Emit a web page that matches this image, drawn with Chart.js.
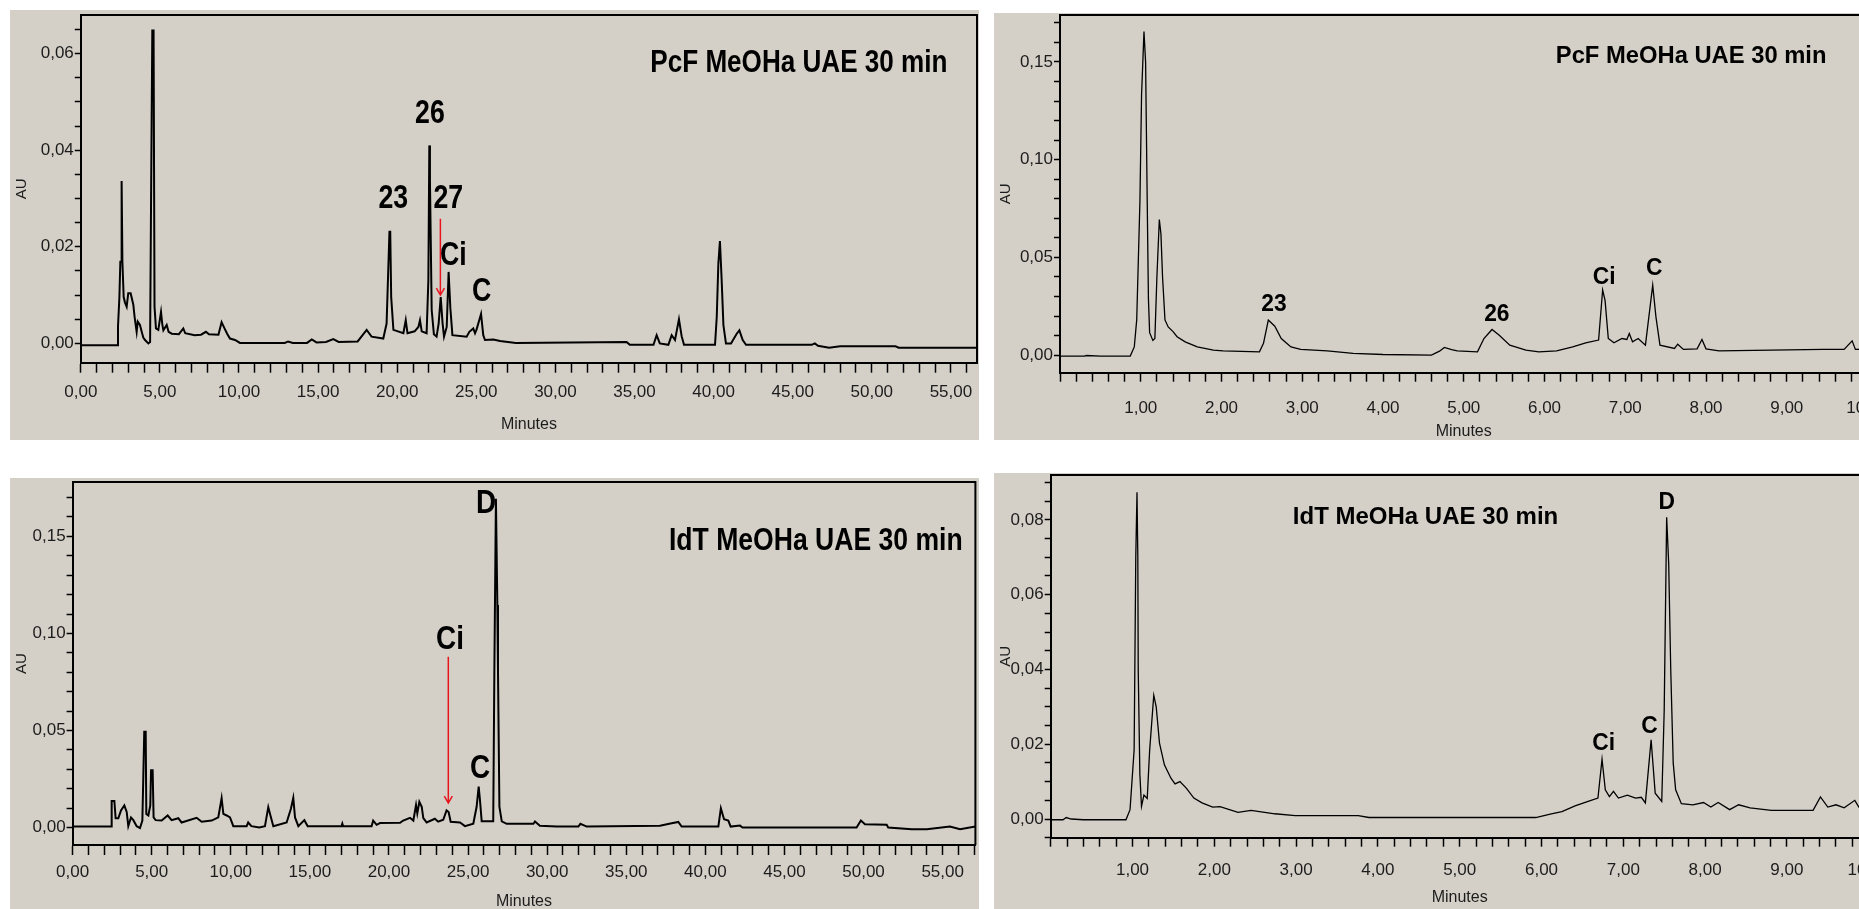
<!DOCTYPE html>
<html>
  <head>
    <meta charset="utf-8" />
    <title>HPLC chromatograms - PcF / IdT MeOHa UAE 30 min</title>
    <style>
        html, body {
            width: 100%;
            height: 100%;
            margin: 0;
            padding: 0;
            overflow: hidden;
            background: #ffffff;
        }
        .panel {
            position: absolute;
            background: #d4d0c8;
        }
        .panel canvas {
            display: block;
        }
    </style>
  </head>
  <body>

    <script src="https://cdn.jsdelivr.net/npm/chart.js@4/dist/chart.umd.min.js"></script>

    <div class="panel" style="left:10px;top:10px;width:969px;height:430px"><canvas id="tl" width="969" height="430"></canvas></div>
    <div class="panel" style="left:994px;top:13px;width:940px;height:427px"><canvas id="tr" width="940" height="427"></canvas></div>
    <div class="panel" style="left:10px;top:478px;width:969px;height:431px"><canvas id="bl" width="969" height="431"></canvas></div>
    <div class="panel" style="left:994px;top:473px;width:940px;height:436px"><canvas id="br" width="940" height="436"></canvas></div>

    <script>
        // ---- PcF MeOHa UAE 30 min, 0-57 min run (top left) ----
        const tlTime = [0, 2.31, 2.35, 2.44, 2.50, 2.55, 2.58, 2.63, 2.71, 2.79,
          2.90, 3.00, 3.15, 3.32, 3.40, 3.53, 3.60, 3.74, 3.85, 3.95,
          4.06, 4.27, 4.38, 4.44, 4.52, 4.60, 4.66, 4.75, 4.90, 5.07,
          5.15, 5.22, 5.43, 5.55, 5.75, 6.20, 6.48, 6.60, 7.20, 7.60,
          7.91, 8.10, 8.70, 8.90, 9.10, 9.25, 9.43, 9.75, 10.06, 12.90,
          13.10, 13.40, 14.30, 14.60, 14.90, 15.50, 15.96, 16.30, 17.50, 18.07,
          18.20, 18.38, 19.12, 19.33, 19.51, 19.56, 19.62, 19.76, 20.39, 20.54,
          20.65, 21.10, 21.34, 21.44, 21.55, 21.86, 21.97, 22.03, 22.07, 22.18,
          22.32, 22.49, 22.62, 22.75, 22.87, 22.96, 23.13, 23.25, 23.36, 23.49,
          24.39, 24.56, 24.81, 24.92, 25.02, 25.30, 25.44, 25.55, 26.08, 26.50,
          27.50, 34.50, 34.70, 36.20, 36.40, 36.60, 37.14, 37.35, 37.56, 37.81,
          37.98, 38.13, 40.09, 40.20, 40.30, 40.40, 40.51, 40.62, 40.78, 41.10,
          41.46, 41.63, 41.84, 42.05, 46.20, 46.40, 46.60, 47.30, 48.00, 51.50,
          51.70, 56.65];
        const tlAU = [-0.0004, -0.0004, 0.0034, 0.0096, 0.0169, 0.0169, 0.0336, 0.0169, 0.0096, 0.0085,
          0.0076, 0.0104, 0.0104, 0.0080, 0.0055, 0.0024, 0.0045, 0.0038, 0.0024, 0.0012,
          0.0007, 0.0000, 0.0003, 0.0290, 0.0648, 0.0648, 0.0076, 0.0031, 0.0028, 0.0065,
          0.0040, 0.0027, 0.0038, 0.0024, 0.0020, 0.0019, 0.0031, 0.0021, 0.0017, 0.0018,
          0.0024, 0.0019, 0.0018, 0.0044, 0.0030, 0.0020, 0.0010, 0.0007, 0.0001, 0.0001,
          0.0004, 0.0001, 0.0001, 0.0008, 0.0002, 0.0003, 0.0009, 0.0003, 0.0004, 0.0028,
          0.0022, 0.0014, 0.0010, 0.0041, 0.0231, 0.0231, 0.0096, 0.0028, 0.0021, 0.0048,
          0.0021, 0.0025, 0.0034, 0.0048, 0.0025, 0.0021, 0.0131, 0.0410, 0.0338, 0.0069,
          0.0019, 0.0014, 0.0041, 0.0096, 0.0041, 0.0014, 0.0034, 0.0148, 0.0073, 0.0017,
          0.0014, 0.0024, 0.0031, 0.0021, 0.0029, 0.0061, 0.0017, 0.0007, 0.0008, 0.0005,
          0.0001, 0.0003, -0.0003, -0.0003, 0.0017, 0.0000, -0.0003, 0.0017, 0.0007, 0.0050,
          0.0015, -0.0003, -0.0003, 0.0055, 0.0165, 0.0212, 0.0131, 0.0038, 0.0000, 0.0000,
          0.0020, 0.0027, 0.0007, -0.0003, -0.0003, 0.0000, -0.0005, -0.0009, -0.0006, -0.0006,
          -0.0009, -0.0009];
        const tlPeakText = ['23', '26', '27', 'Ci', 'C'];
        const tlPeakTime = [19.75, 22.07, 23.23, 23.55, 25.34];
        const tlPeakAU = [0.0300, 0.0476, 0.0300, 0.0182, 0.0107];
        const tlArrow = [22.73, 0.0258, 0.0100]; // time, from AU, to AU

        // ---- PcF MeOHa UAE 30 min, 0-10 min run (top right) ----
        const trTime = [0.00, 0.30, 0.33, 0.50, 0.87, 0.92, 0.95, 0.99, 1.01, 1.04,
          1.06, 1.08, 1.095, 1.11, 1.15, 1.175, 1.20, 1.23, 1.25, 1.27,
          1.30, 1.34, 1.40, 1.45, 1.55, 1.70, 1.90, 2.02, 2.47, 2.52,
          2.58, 2.66, 2.74, 2.86, 2.98, 3.31, 3.63, 4.00, 4.60, 4.70,
          4.76, 4.85, 4.92, 5.17, 5.25, 5.35, 5.44, 5.57, 5.77, 5.93,
          6.15, 6.35, 6.51, 6.67, 6.72, 6.75, 6.79, 6.86, 6.96, 7.02,
          7.05, 7.09, 7.16, 7.25, 7.34, 7.38, 7.43, 7.61, 7.65, 7.72,
          7.89, 7.95, 8.00, 8.16, 9.45, 9.71, 9.81, 9.85, 10.00];
        const trAU = [-0.0005, -0.0005, -0.0002, -0.0005, -0.0005, 0.0042, 0.0180, 0.0790, 0.1330, 0.1655,
          0.1500, 0.0790, 0.0290, 0.0115, 0.0075, 0.0085, 0.0400, 0.0694, 0.0620, 0.0400,
          0.0180, 0.0144, 0.0120, 0.0094, 0.0068, 0.0042, 0.0025, 0.0022, 0.0017, 0.0060,
          0.0179, 0.0148, 0.0085, 0.0042, 0.0029, 0.0022, 0.0009, 0.0003, 0.0000, 0.0020,
          0.0039, 0.0028, 0.0022, 0.0017, 0.0085, 0.0131, 0.0102, 0.0051, 0.0026, 0.0017,
          0.0022, 0.0042, 0.0063, 0.0077, 0.0333, 0.0280, 0.0085, 0.0063, 0.0085, 0.0080,
          0.0111, 0.0068, 0.0085, 0.0051, 0.0358, 0.0196, 0.0051, 0.0034, 0.0056, 0.0029,
          0.0032, 0.0080, 0.0032, 0.0022, 0.0029, 0.0029, 0.0073, 0.0029, 0.0030];
        const trPeakText = ['23', '26', 'Ci', 'C'];
        const trPeakTime = [2.65, 5.41, 6.74, 7.36];
        const trPeakAU = [0.0261, 0.0210, 0.0400, 0.0444];

        // ---- IdT MeOHa UAE 30 min, 0-57 min run (bottom left) ----
        const blTime = [0, 2.43, 2.47, 2.64, 2.72, 2.89, 3.06, 3.27, 3.42, 3.52,
          3.69, 3.84, 4.05, 4.26, 4.41, 4.47, 4.53, 4.62, 4.66, 4.79,
          4.91, 4.96, 5.06, 5.12, 5.25, 5.63, 6.01, 6.26, 6.68, 6.89,
          7.84, 8.16, 8.79, 9.21, 9.42, 9.53, 9.74, 9.95, 10.16, 11.00,
          11.10, 11.30, 11.80, 12.16, 12.37, 12.54, 12.69, 13.53, 13.80, 13.95,
          14.06, 14.27, 14.65, 14.86, 17.00, 17.05, 17.10, 18.90, 19.00, 19.22,
          19.43, 20.70, 20.90, 21.33, 21.54, 21.71, 21.79, 21.92, 22.07, 22.17,
          22.38, 22.90, 23.11, 23.43, 23.64, 23.77, 23.90, 24.49, 24.80, 25.33,
          25.54, 25.67, 25.75, 25.86, 26.59, 26.66, 26.76, 26.85, 26.89, 26.98,
          27.13, 27.44, 29.13, 29.23, 29.54, 30.60, 31.97, 32.10, 32.50, 37.13,
          37.87, 38.29, 38.50, 40.82, 40.98, 41.18, 41.45, 41.60, 42.19, 42.35,
          49.56, 49.83, 50.09, 51.46, 51.56, 53.04, 54.00, 55.46, 56.10, 57.07];
        const blAU = [0.0005, 0.0005, 0.0137, 0.0137, 0.0048, 0.0048, 0.0088, 0.0114, 0.0080, 0.0007,
          0.0052, 0.0038, 0.0007, -0.0003, 0.0036, 0.0263, 0.0494, 0.0494, 0.0070, 0.0062,
          0.0114, 0.0295, 0.0295, 0.0052, 0.0038, 0.0036, 0.0062, 0.0038, 0.0048, 0.0026,
          0.0050, 0.0030, 0.0036, 0.0052, 0.0151, 0.0070, 0.0062, 0.0052, 0.0007, 0.0007,
          0.0026, 0.0007, 0.0000, 0.0007, 0.0105, 0.0052, 0.0007, 0.0026, 0.0097, 0.0153,
          0.0052, 0.0007, 0.0038, 0.0007, 0.0007, 0.0020, 0.0007, 0.0007, 0.0036, 0.0014,
          0.0023, 0.0024, 0.0036, 0.0050, 0.0036, 0.0116, 0.0073, 0.0133, 0.0107, 0.0048,
          0.0026, 0.0045, 0.0030, 0.0040, 0.0088, 0.0080, 0.0030, 0.0026, 0.0007, 0.0020,
          0.0107, 0.0211, 0.0143, 0.0032, 0.0032, 0.0794, 0.1694, 0.1146, 0.0812, 0.0107,
          0.0032, 0.0019, 0.0019, 0.0031, 0.0009, 0.0005, 0.0005, 0.0019, 0.0005, 0.0009,
          0.0022, 0.0029, 0.0005, 0.0005, 0.0099, 0.0043, 0.0036, 0.0005, 0.0010, 0.0000,
          0.0000, 0.0036, 0.0017, 0.0014, 0.0000, -0.0009, -0.0009, 0.0005, -0.0009, 0.0005];
        const blPeakText = ['Ci', 'C', 'D'];
        const blPeakTime = [23.86, 25.75, 26.13];
        const blPeakAU = [0.0966, 0.0302, 0.1669];
        const blArrow = [23.75, 0.0880, 0.0126];

        // ---- IdT MeOHa UAE 30 min, 0-10 min run (bottom right) ----
        const brTime = [0.00, 0.15, 0.19, 0.25, 0.40, 0.92, 0.97, 1.02, 1.04, 1.055,
          1.065, 1.07, 1.09, 1.11, 1.14, 1.18, 1.21, 1.26, 1.29, 1.33,
          1.39, 1.47, 1.52, 1.58, 1.66, 1.75, 1.85, 1.98, 2.07, 2.29,
          2.45, 2.74, 2.99, 3.76, 3.89, 5.93, 6.12, 6.25, 6.41, 6.57,
          6.69, 6.74, 6.78, 6.83, 6.88, 6.94, 7.05, 7.15, 7.22, 7.27,
          7.34, 7.39, 7.47, 7.50, 7.53, 7.555, 7.58, 7.61, 7.64, 7.71,
          7.85, 7.98, 8.07, 8.16, 8.30, 8.41, 8.55, 8.81, 9.32, 9.41,
          9.50, 9.60, 9.70, 9.83, 9.88, 10.00];
        const brAU = [-0.0002, -0.0002, 0.0004, 0.0000, -0.0002, -0.0002, 0.0025, 0.0185, 0.0700, 0.0874,
          0.0700, 0.0400, 0.0120, 0.0034, 0.0064, 0.0055, 0.0185, 0.0331, 0.0300, 0.0203,
          0.0145, 0.0109, 0.0094, 0.0100, 0.0082, 0.0056, 0.0043, 0.0032, 0.0033, 0.0018,
          0.0023, 0.0014, 0.0009, 0.0009, 0.0004, 0.0004, 0.0014, 0.0020, 0.0035, 0.0047,
          0.0056, 0.0160, 0.0078, 0.0060, 0.0074, 0.0056, 0.0064, 0.0056, 0.0058, 0.0043,
          0.0212, 0.0069, 0.0047, 0.0290, 0.0807, 0.0683, 0.0400, 0.0150, 0.0078, 0.0041,
          0.0038, 0.0044, 0.0032, 0.0044, 0.0025, 0.0038, 0.0030, 0.0023, 0.0023, 0.0059,
          0.0032, 0.0038, 0.0030, 0.0050, 0.0032, 0.0030];
        const brPeakText = ['Ci', 'C', 'D'];
        const brPeakTime = [6.76, 7.32, 7.53];
        const brPeakAU = [0.0203, 0.0247, 0.0846];

        const SANS = "'Liberation Sans', Arial, sans-serif";

        const comma = (v) => (Math.abs(v) < 1e-9 ? 0 : v).toFixed(2).replace('.', ',');
        const onStep = (v, step) => Math.abs(v / step - Math.round(v / step)) < 1e-6;

        // draws text squeezed horizontally (the export uses a condensed face)
        const squeezed = (ctx, text, px, py, sx) => {
          ctx.save();
          ctx.translate(px, py);
          ctx.scale(sx, 1);
          ctx.fillText(text, 0, 0);
          ctx.restore();
        };

        // frame on top/right, peak names, red arrow and run title
        const chromPlugin = {
          id: 'chrom',
          afterDatasetsDraw(chart, args, opts) {
            const { ctx, chartArea: a, scales: { x, y } } = chart;
            ctx.save();
            ctx.strokeStyle = '#000';
            ctx.lineWidth = 2;
            ctx.beginPath();
            ctx.moveTo(a.left, a.top);
            ctx.lineTo(a.right, a.top);
            ctx.lineTo(a.right, a.bottom);
            ctx.stroke();

            ctx.fillStyle = '#000';
            ctx.font = opts.titleFont;
            ctx.textAlign = 'left';
            ctx.textBaseline = 'alphabetic';
            squeezed(ctx, opts.title, x.getPixelForValue(opts.titleAt[0]), y.getPixelForValue(opts.titleAt[1]), opts.titleSqueeze);

            ctx.font = opts.peakFont;
            ctx.textAlign = 'center';
            ctx.textBaseline = 'middle';
            opts.peakText.forEach((t, i) => {
              squeezed(ctx, t, x.getPixelForValue(opts.peakTime[i]), y.getPixelForValue(opts.peakAU[i]), opts.squeeze);
            });

            if (opts.arrow) {
              const ax = x.getPixelForValue(opts.arrow[0]);
              const y0 = y.getPixelForValue(opts.arrow[1]);
              const y1 = y.getPixelForValue(opts.arrow[2]);
              ctx.strokeStyle = '#e8151d';
              ctx.lineWidth = 1.5;
              ctx.beginPath();
              ctx.moveTo(ax, y0);
              ctx.lineTo(ax, y1);
              ctx.moveTo(ax - 4, y1 - 7);
              ctx.lineTo(ax, y1);
              ctx.lineTo(ax + 4, y1 - 7);
              ctx.stroke();
            }
            ctx.restore();
          }
        };

        const noPad = (s) => { s.paddingLeft = 0; s.paddingRight = 0; s.paddingTop = 0; s.paddingBottom = 0; };

        const makeChart = (id, p) => new Chart(id, {
          type: 'line',
          data: {
            datasets: [{
              data: p.time.map((t, i) => ({ x: t, y: p.au[i] })),
              borderColor: '#000',
              borderWidth: p.lineWidth,
              pointRadius: 0,
              tension: 0,
              fill: false
            }]
          },
          options: {
            responsive: false,
            animation: false,
            devicePixelRatio: 1,
            events: [],
            layout: { padding: { left: 0, top: p.padTop, right: p.padRight, bottom: 0 } },
            plugins: {
              legend: { display: false },
              tooltip: { enabled: false },
              chrom: p.marks
            },
            scales: {
              x: {
                type: 'linear',
                min: 0,
                max: p.xMax,
                ticks: {
                  stepSize: p.xStep,
                  autoSkip: false,
                  includeBounds: false,
                  maxRotation: 0,
                  minRotation: 0,
                  padding: p.xTickPad,
                  color: '#1c1c1c',
                  font: { family: SANS, size: 17 },
                  callback: (v) => (onStep(v, p.xLabelStep) && !(p.hideZero && Math.abs(v) < 1e-9)) ? comma(v) : ''
                },
                grid: { drawOnChartArea: false, drawTicks: true, tickLength: p.xTickLen, tickColor: '#000', tickWidth: 1.5 },
                border: { display: true, color: '#000', width: 2 },
                title: { display: true, text: 'Minutes', color: '#1c1c1c', font: { family: SANS, size: 16 }, padding: { top: 0, bottom: p.minutesPad } },
                afterFit: (s) => { s.height = p.xAxisH; noPad(s); }
              },
              y: {
                min: p.yMin,
                max: p.yMax,
                ticks: {
                  stepSize: p.yStep,
                  autoSkip: false,
                  includeBounds: false,
                  padding: 1,
                  color: '#1c1c1c',
                  font: { family: SANS, size: 17 },
                  callback: (v) => onStep(v, p.yLabelStep) ? comma(v) : ''
                },
                grid: { drawOnChartArea: false, drawTicks: true, tickLength: 6, tickColor: '#000', tickWidth: 1.5 },
                border: { display: true, color: '#000', width: 2 },
                title: { display: true, text: 'AU', color: '#1c1c1c', font: { family: SANS, size: 15 }, padding: { top: 3, bottom: 0 } },
                afterFit: (s) => { s.width = p.axisW; noPad(s); }
              }
            }
          },
          plugins: [chromPlugin]
        });

        makeChart('tl', {
          time: tlTime, au: tlAU, lineWidth: 2,
          xMax: 56.65, xStep: 1, xLabelStep: 5, hideZero: false,
          yMin: -0.004, yMax: 0.068, yStep: 0.005, yLabelStep: 0.02,
          axisW: 70.8, padTop: 5, padRight: 2, xAxisH: 77.3, xTickLen: 10, xTickPad: 9, minutesPad: 6,
          marks: {
            title: 'PcF MeOHa UAE 30 min', titleAt: [36.0, 0.0561], titleFont: 'bold 32px ' + SANS, titleSqueeze: 0.815,
            peakText: tlPeakText, peakTime: tlPeakTime, peakAU: tlPeakAU, peakFont: 'bold 33px ' + SANS,
            squeeze: 0.81, arrow: tlArrow
          }
        });

        makeChart('tr', {
          time: trTime, au: trAU, lineWidth: 1.3,
          xMax: 10, xStep: 0.2, xLabelStep: 1, hideZero: true,
          yMin: -0.009, yMax: 0.174, yStep: 0.01, yLabelStep: 0.05,
          axisW: 66, padTop: 2, padRight: 66.5, xAxisH: 67.3, xTickLen: 9, xTickPad: 16, minutesPad: -1,
          marks: {
            title: 'PcF MeOHa UAE 30 min', titleAt: [6.14, 0.1494], titleFont: 'bold 24px ' + SANS, titleSqueeze: 0.99,
            peakText: trPeakText, peakTime: trPeakTime, peakAU: trPeakAU, peakFont: 'bold 24px ' + SANS,
            squeeze: 0.95, arrow: null
          }
        });

        makeChart('bl', {
          time: blTime, au: blAU, lineWidth: 2,
          xMax: 57.07, xStep: 1, xLabelStep: 5, hideZero: false,
          yMin: -0.009, yMax: 0.178, yStep: 0.01, yLabelStep: 0.05,
          axisW: 62.6, padTop: 4, padRight: 3.6, xAxisH: 64, xTickLen: 10, xTickPad: 7, minutesPad: -2,
          marks: {
            title: 'IdT MeOHa UAE 30 min', titleAt: [37.7, 0.1428], titleFont: 'bold 32px ' + SANS, titleSqueeze: 0.83,
            peakText: blPeakText, peakTime: blPeakTime, peakAU: blPeakAU, peakFont: 'bold 34px ' + SANS,
            squeeze: 0.82, arrow: blArrow
          }
        });

        makeChart('br', {
          time: brTime, au: brAU, lineWidth: 1.3,
          xMax: 10, xStep: 0.2, xLabelStep: 1, hideZero: true,
          yMin: -0.005, yMax: 0.092, yStep: 0.005, yLabelStep: 0.02,
          axisW: 56.7, padTop: 2, padRight: 65.3, xAxisH: 71.3, xTickLen: 9, xTickPad: 13, minutesPad: 2,
          marks: {
            title: 'IdT MeOHa UAE 30 min', titleAt: [2.96, 0.0790], titleFont: 'bold 24px ' + SANS, titleSqueeze: 1.0,
            peakText: brPeakText, peakTime: brPeakTime, peakAU: brPeakAU, peakFont: 'bold 24px ' + SANS,
            squeeze: 0.95, arrow: null
          }
        });
    </script>
  </body>
</html>
